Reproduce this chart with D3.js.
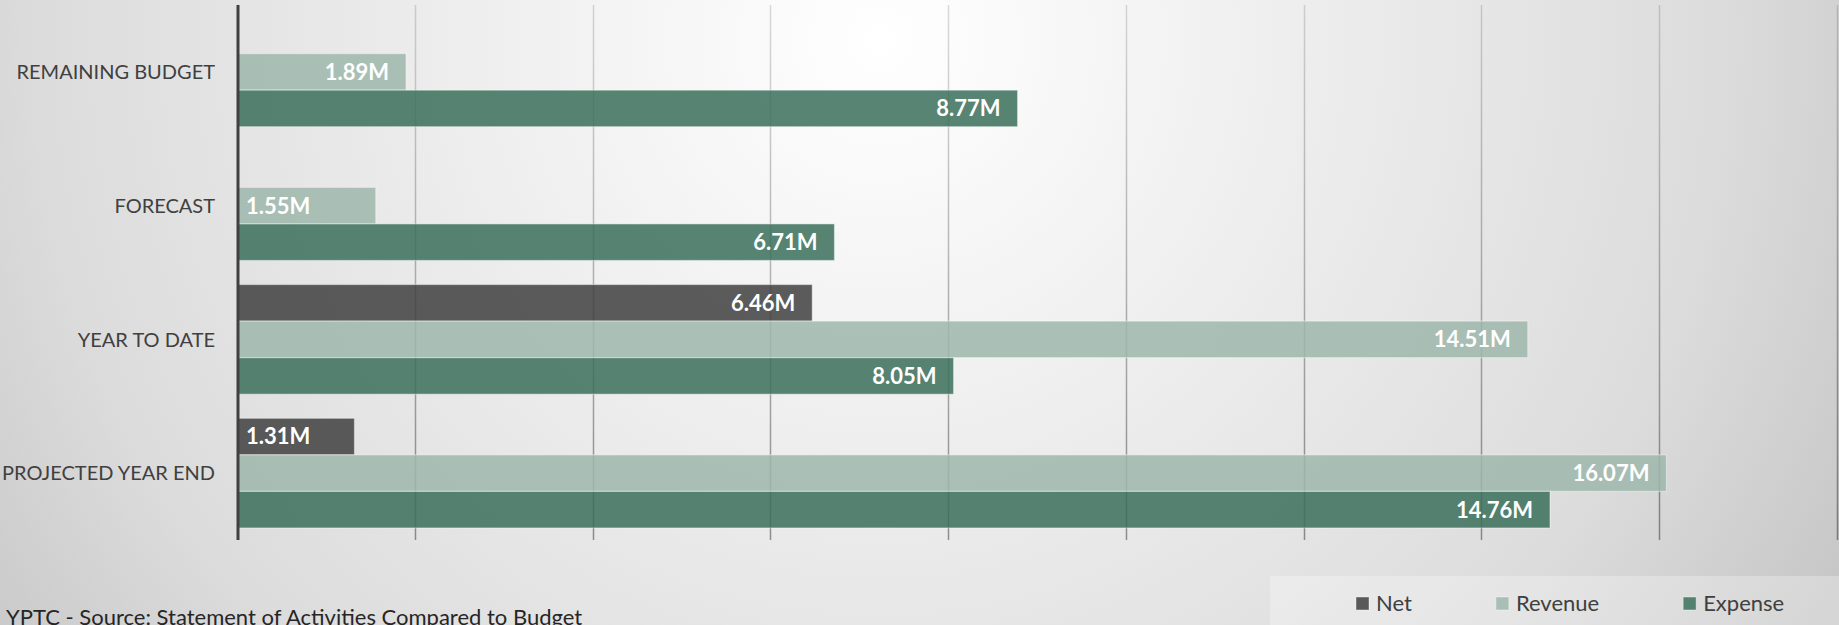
<!DOCTYPE html>
<html>
<head>
<meta charset="utf-8">
<script src="https://cdn.jsdelivr.net/npm/d3@7"></script>
<style>
  html, body { margin: 0; padding: 0; overflow: hidden; background: #d8d8d8; }
  text { font-family: Lato, "Open Sans", sans-serif; }
</style>
</head>
<body>
<div id="chart"></div>
<script>
// Chart data (values in millions)
const categories = ["REMAINING BUDGET", "FORECAST", "YEAR TO DATE", "PROJECTED YEAR END"];
const seriesNames = ["Net", "Revenue", "Expense"];
const netValues = [null, null, 6.46, 1.31];
const revenueValues = [1.89, 1.55, 14.51, 16.07];
const expenseValues = [8.77, 6.71, 8.05, 14.76];
const xTicks = [0, 2, 4, 6, 8, 10, 12, 14, 16, 18];
const footnote = "YPTC - Source: Statement of Activities Compared to Budget";

const W = 1839, H = 625;
const margin = { top: 5, right: 1, bottom: 85, left: 238 };
const colors = { Net: "#3f3f3f", Revenue: "#9db7ac", Expense: "#396f5a" };
const legendColors = { Net: "#595959", Revenue: "#a9bfb5", Expense: "#548270" };
const SHORT_BAR = 1.6; // labels of shorter bars sit at the start

const valuesBySeries = { Net: netValues, Revenue: revenueValues, Expense: expenseValues };

const svg = d3.select("#chart").append("svg")
    .attr("width", W)
    .attr("height", H);

const defs = svg.append("defs");

// Background radial gradient
const bg = defs.append("radialGradient")
    .attr("id", "bg")
    .attr("gradientUnits", "userSpaceOnUse")
    .attr("cx", 880).attr("cy", 40).attr("r", 1200);
bg.append("stop").attr("offset", 0).attr("stop-color", "#ffffff");
bg.append("stop").attr("offset", 0.3).attr("stop-color", "#f0f0f0");
bg.append("stop").attr("offset", 0.7).attr("stop-color", "#dcdcdc");
bg.append("stop").attr("offset", 1).attr("stop-color", "#bfbfbf");

// Gridline gradient: lighter at top, darker at bottom
const gg = defs.append("linearGradient")
    .attr("id", "grid")
    .attr("gradientUnits", "userSpaceOnUse")
    .attr("x1", 0).attr("y1", margin.top)
    .attr("x2", 0).attr("y2", H - margin.bottom);
gg.append("stop").attr("offset", 0).attr("stop-color", "#000").attr("stop-opacity", 0.14);
gg.append("stop").attr("offset", 1).attr("stop-color", "#000").attr("stop-opacity", 0.4);

svg.append("rect")
    .attr("width", W).attr("height", H)
    .attr("fill", "url(#bg)");

// Scales
const x = d3.scaleLinear()
    .domain([0, 18])
    .range([margin.left, W - margin.right]);

const y = d3.scaleBand()
    .domain(categories)
    .range([margin.top, H - margin.bottom])
    .paddingInner(0.18)
    .paddingOuter(0.09);

const ySub = d3.scaleBand()
    .domain(seriesNames)
    .range([0, y.bandwidth()]);

// Gridlines
svg.append("g")
    .selectAll("line")
    .data(xTicks.filter(d => d > 0))
    .join("line")
    .attr("x1", d => Math.round(x(d)) - 0.5)
    .attr("x2", d => Math.round(x(d)) - 0.5)
    .attr("y1", margin.top)
    .attr("y2", H - margin.bottom)
    .attr("stroke", "url(#grid)")
    .attr("stroke-width", 1.5);

// Flatten the data for bars
const barData = [];
categories.forEach((c, i) => {
    seriesNames.forEach(s => {
        const v = valuesBySeries[s][i];
        if (v != null) barData.push({ category: c, series: s, value: v });
    });
});

const groups = svg.append("g");

groups.selectAll("rect")
    .data(barData)
    .join("rect")
    .attr("x", x(0))
    .attr("y", d => y(d.category) + ySub(d.series))
    .attr("width", d => x(d.value) - x(0))
    .attr("height", ySub.bandwidth())
    .attr("fill", d => colors[d.series])
    .attr("fill-opacity", 0.85)
    .attr("stroke", "#ffffff")
    .attr("stroke-opacity", 0.4)
    .attr("stroke-width", 1.2);

// Value labels
const fmt = d3.format(".2f");
groups.selectAll("text")
    .data(barData)
    .join("text")
    .attr("x", d => d.value < SHORT_BAR ? x(0) + 8 : x(d.value) - 17)
    .attr("y", d => y(d.category) + ySub(d.series) + ySub.bandwidth() / 2)
    .attr("dy", "0.36em")
    .attr("text-anchor", d => d.value < SHORT_BAR ? "start" : "end")
    .attr("fill", "#ffffff")
    .attr("font-weight", "bold")
    .attr("font-size", "22px")
    .text(d => fmt(d.value) + "M");

// Category axis line
svg.append("line")
    .attr("x1", x(0)).attr("x2", x(0))
    .attr("y1", margin.top).attr("y2", H - margin.bottom)
    .attr("stroke", "#404040")
    .attr("stroke-width", 3);

// Category labels
svg.append("g")
    .selectAll("text")
    .data(categories)
    .join("text")
    .attr("x", x(0) - 23)
    .attr("y", d => y(d) + y.bandwidth() / 2)
    .attr("dy", "0.36em")
    .attr("text-anchor", "end")
    .attr("fill", "#404040")
    .attr("font-size", "20px")
    .text(d => d);

// Legend
const legendBox = { x: 1270, y: 576, w: W - 1270, h: H - 576 };
svg.append("rect")
    .attr("x", legendBox.x).attr("y", legendBox.y)
    .attr("width", legendBox.w).attr("height", legendBox.h)
    .attr("fill", "#ffffff")
    .attr("fill-opacity", 0.28);

const legend = svg.append("g");
let lx = 1356;
seriesNames.forEach(s => {
    const item = legend.append("g").attr("transform", `translate(${lx},597)`);
    item.append("rect")
        .attr("width", 13).attr("height", 13)
        .attr("fill", legendColors[s])
        .attr("stroke", "#ffffff")
        .attr("stroke-opacity", 0.4);
    const t = item.append("text")
        .attr("x", 20).attr("y", 13.5)
        .attr("fill", "#404040")
        .attr("font-size", "22px")
        .text(s);
    lx += 20 + t.node().getComputedTextLength() + 84;
});

// Footnote
svg.append("text")
    .attr("x", 6)
    .attr("y", 625)
    .attr("fill", "#262626")
    .attr("font-size", "22px")
    .text(footnote);
</script>
</body>
</html>
